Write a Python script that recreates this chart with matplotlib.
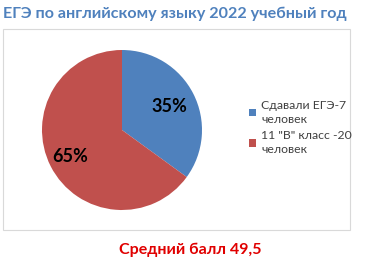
import matplotlib.pyplot as plt
from matplotlib.patches import Rectangle

plt.rcParams['font.family'] = ['Lato', 'DejaVu Sans']

labels = ["Сдавали ЕГЭ-7\nчеловек", "11 \"В\" класс -20\nчеловек"]
values = [7, 13]
colors = ["#4F81BD", "#C0504D"]

W, H = 378, 271
fig = plt.figure(figsize=(W / 100, H / 100), dpi=100)

# chart frame
fig.patches.append(Rectangle((3 / W, 1 - 230 / H), 347 / W, 201 / H,
                             transform=fig.transFigure, fill=False,
                             edgecolor="#D9D9D9", linewidth=0.8))

fig.text(3 / W, 1 - 14 / H, "ЕГЭ по английскому языку 2022 учебный год",
         color="#4F81BD", fontsize=11.6, fontweight="bold", va="center")

ax = fig.add_axes([42 / W, 1 - 210 / H, 160 / W, 160 / H])
wedges, texts, autotexts = ax.pie(values, colors=colors, startangle=90,
                                  counterclock=False, autopct="%1.0f%%",
                                  pctdistance=0.66, radius=1,
                                  textprops={"fontsize": 13, "fontweight": "bold"})
# the bigger slice label sits a bit farther out
x, y = autotexts[1].get_position()
autotexts[1].set_position((x * 1.1, y * 1.1))
ax.set_xlim(-1, 1)
ax.set_ylim(-1, 1)
ax.set_aspect("equal")

leg = fig.legend(wedges, labels, loc="upper left",
                 bbox_to_anchor=(238 / W, 1 - 89 / H), frameon=False,
                 fontsize=8.8, handlelength=0.6, handleheight=0.6,
                 handletextpad=0.4, labelspacing=0.45)
for t in leg.get_texts():
    t.set_color("#404040")
    t.set_linespacing(1.3)

fig.text(190 / W, 1 - 250 / H, "Средний балл 49,5", color="#E00000",
         fontsize=11.5, fontweight="bold", ha="center", va="center")

fig.savefig("out.png", dpi=100)
